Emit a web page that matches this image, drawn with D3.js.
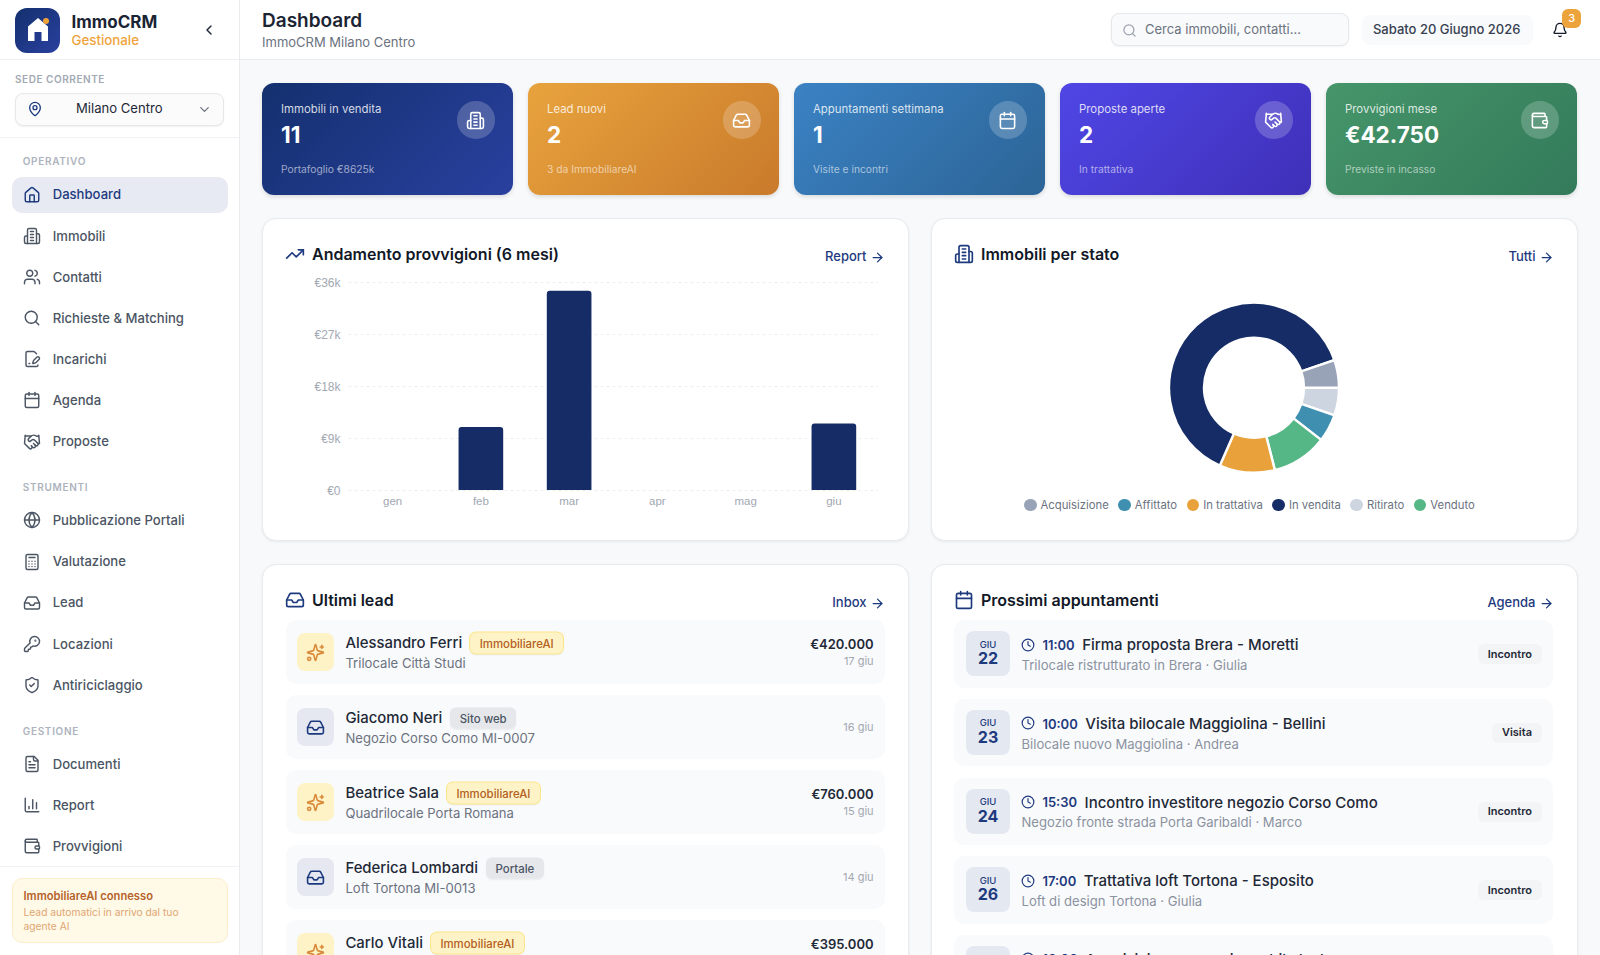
<!DOCTYPE html>
<html lang="it">
<head>
<meta charset="utf-8">
<title>ImmoCRM Dashboard</title>
<script src="https://cdn.jsdelivr.net/npm/d3@7"></script>
<style>
  html, body { margin: 0; padding: 0; background: #f8f9fb; overflow: hidden; }
  #page { position: relative; width: 1600px; height: 955px; overflow: hidden; font-family: Inter, "Noto Sans", sans-serif; color: #1f2937; }
  #page div { position: absolute; box-sizing: border-box; }
  #page .flow, #page .flow div { position: static; }
  .flow { display: flex; align-items: center; white-space: nowrap; }
  .lbl { white-space: nowrap; line-height: 1.2; }
  .ico { position: absolute; fill: none; stroke: currentColor; stroke-linecap: round; stroke-linejoin: round; }
  svg.chart { position: absolute; overflow: visible; font-family: Inter, "Noto Sans", sans-serif; }
</style>
</head>
<body>
<div id="page"></div>
<script>
// data
const months = ["gen", "feb", "mar", "apr", "mag", "giu"];
const commissions = [0, 10900, 34500, 0, 0, 11500];
const yTicks = [0, 9000, 18000, 27000, 36000];

const statusNames = ["Acquisizione", "Affittato", "In trattativa", "In vendita", "Ritirato", "Venduto"];
const statusColors = ["#98a3b8", "#3f8fb0", "#e9a23b", "#152c66", "#cdd5e1", "#55b686"];
// order around the ring, clockwise from 3 o'clock
const ringNames = ["Ritirato", "Affittato", "Venduto", "In trattativa", "In vendita", "Acquisizione"];
const ringValues = [1, 1, 2, 2, 12, 1];

const statLabels = ["Immobili in vendita", "Lead nuovi", "Appuntamenti settimana", "Proposte aperte", "Provvigioni mese"];
const statValues = ["11", "2", "1", "2", "€42.750"];
const statNotes = ["Portafoglio €8625k", "3 da ImmobiliareAI", "Visite e incontri", "In trattativa", "Previste in incasso"];
const statIcons = ["building", "inbox", "calendar", "handshake", "wallet"];

const navSections = ["OPERATIVO", "STRUMENTI", "GESTIONE"];
const navItems = [
  ["Dashboard", "Immobili", "Contatti", "Richieste & Matching", "Incarichi", "Agenda", "Proposte"],
  ["Pubblicazione Portali", "Valutazione", "Lead", "Locazioni", "Antiriciclaggio"],
  ["Documenti", "Report", "Provvigioni"]
];
const navIcons = [
  ["home", "building", "users", "search", "filePen", "calendar", "handshake"],
  ["globe", "calculator", "inbox", "key", "shield"],
  ["fileText", "chart", "wallet"]
];

const leadNames = ["Alessandro Ferri", "Giacomo Neri", "Beatrice Sala", "Federica Lombardi", "Carlo Vitali"];
const leadSources = ["ImmobiliareAI", "Sito web", "ImmobiliareAI", "Portale", "ImmobiliareAI"];
const leadProperties = ["Trilocale Città Studi", "Negozio Corso Como MI-0007", "Quadrilocale Porta Romana", "Loft Tortona MI-0013", ""];
const leadPrices = ["€420.000", "", "€760.000", "", "€395.000"];
const leadDates = ["17 giu", "16 giu", "15 giu", "14 giu", ""];

const apptDays = ["22", "23", "24", "26", ""];
const apptTimes = ["11:00", "10:00", "15:30", "17:00", "10:00"];
const apptTitles = ["Firma proposta Brera - Moretti", "Visita bilocale Maggiolina - Bellini", "Incontro investitore negozio Corso Como", "Trattativa loft Tortona - Esposito", "Acquisizione nuovo immobile Isola"];
const apptNotes = ["Trilocale ristrutturato in Brera · Giulia", "Bilocale nuovo Maggiolina · Andrea", "Negozio fronte strada Porta Garibaldi · Marco", "Loft di design Tortona · Giulia", ""];
const apptTypes = ["Incontro", "Visita", "Incontro", "Incontro", ""];

// icons
const icons = {
  home: '<path d="M15 21v-8a1 1 0 0 0-1-1h-4a1 1 0 0 0-1 1v8"/><path d="M3 10a2 2 0 0 1 .709-1.528l7-5.999a2 2 0 0 1 2.582 0l7 5.999A2 2 0 0 1 21 10v9a2 2 0 0 1-2 2H5a2 2 0 0 1-2-2z"/>',
  building: '<path d="M6 22V4a2 2 0 0 1 2-2h8a2 2 0 0 1 2 2v18Z"/><path d="M6 12H4a2 2 0 0 0-2 2v6a2 2 0 0 0 2 2h2"/><path d="M18 9h2a2 2 0 0 1 2 2v9a2 2 0 0 1-2 2h-2"/><path d="M10 6h4"/><path d="M10 10h4"/><path d="M10 14h4"/><path d="M10 18h4"/>',
  users: '<path d="M16 21v-2a4 4 0 0 0-4-4H6a4 4 0 0 0-4 4v2"/><circle cx="9" cy="7" r="4"/><path d="M22 21v-2a4 4 0 0 0-3-3.87"/><path d="M16 3.13a4 4 0 0 1 0 7.75"/>',
  search: '<circle cx="11" cy="11" r="8"/><path d="m21 21-4.3-4.3"/>',
  filePen: '<path d="m18 5-2.414-2.414A2 2 0 0 0 14.172 2H6a2 2 0 0 0-2 2v16a2 2 0 0 0 2 2h12a2 2 0 0 0 2-2"/><path d="M21.378 12.626a1 1 0 0 0-3.004-3.004l-4.01 4.012a2 2 0 0 0-.506.854l-.837 2.87a.5.5 0 0 0 .62.62l2.87-.837a2 2 0 0 0 .854-.506z"/><path d="M8 18h1"/>',
  calendar: '<path d="M8 2v4"/><path d="M16 2v4"/><rect width="18" height="18" x="3" y="4" rx="2"/><path d="M3 10h18"/>',
  handshake: '<path d="m11 17 2 2a1 1 0 1 0 3-3"/><path d="m14 14 2.5 2.5a1 1 0 1 0 3-3l-3.88-3.88a3 3 0 0 0-4.24 0l-.88.88a1 1 0 1 1-3-3l2.81-2.81a5.79 5.79 0 0 1 7.06-.87l.47.28a2 2 0 0 0 1.42.25L21 4"/><path d="m21 3 1 11h-2"/><path d="M3 3 2 14l6.5 6.5a1 1 0 1 0 3-3"/><path d="M3 4h8"/>',
  globe: '<circle cx="12" cy="12" r="10"/><path d="M12 2a14.5 14.5 0 0 0 0 20 14.5 14.5 0 0 0 0-20"/><path d="M2 12h20"/>',
  calculator: '<rect width="16" height="20" x="4" y="2" rx="2"/><path d="M8 6h8"/><path d="M8 11h.01M12 11h.01M16 11h.01M8 14.5h.01M12 14.5h.01M16 14.5h.01M8 18h.01M12 18h.01M16 18h.01"/>',
  inbox: '<polyline points="22 12 16 12 14 15 10 15 8 12 2 12"/><path d="M5.45 5.11 2 12v6a2 2 0 0 0 2 2h16a2 2 0 0 0 2-2v-6l-3.45-6.89A2 2 0 0 0 16.76 4H7.24a2 2 0 0 0-1.79 1.11z"/>',
  key: '<path d="M2.586 17.414A2 2 0 0 0 2 18.828V21a1 1 0 0 0 1 1h3a1 1 0 0 0 1-1v-1a1 1 0 0 1 1-1h1a1 1 0 0 0 1-1v-1a1 1 0 0 1 1-1h.172a2 2 0 0 0 1.414-.586l.814-.814a6.5 6.5 0 1 0-4-4z"/><circle cx="16.5" cy="7.5" r=".5"/>',
  shield: '<path d="M20 13c0 5-3.5 7.5-7.66 8.95a1 1 0 0 1-.67-.01C7.5 20.5 4 18 4 13V6a1 1 0 0 1 1-1c2 0 4.5-1.2 6.24-2.72a1.17 1.17 0 0 1 1.52 0C14.51 3.81 17 5 19 5a1 1 0 0 1 1 1z"/><path d="m9 12 2 2 4-4"/>',
  fileText: '<path d="M15 2H6a2 2 0 0 0-2 2v16a2 2 0 0 0 2 2h12a2 2 0 0 0 2-2V7Z"/><path d="M14 2v4a2 2 0 0 0 2 2h4"/><path d="M10 9H8"/><path d="M16 13H8"/><path d="M16 17H8"/>',
  chart: '<path d="M3 3v16a2 2 0 0 0 2 2h16"/><path d="M18 17V9"/><path d="M13 17V5"/><path d="M8 17v-3"/>',
  wallet: '<path d="M19 7V4a1 1 0 0 0-1-1H5a2 2 0 0 0 0 4h15a1 1 0 0 1 1 1v4h-3a2 2 0 0 0 0 4h3a1 1 0 0 0 1-1v-2a1 1 0 0 0-1-1"/><path d="M3 5v14a2 2 0 0 0 2 2h15a1 1 0 0 0 1-1v-4"/>',
  pin: '<path d="M20 10c0 4.993-5.539 10.193-7.399 11.799a1 1 0 0 1-1.202 0C9.539 20.193 4 14.993 4 10a8 8 0 0 1 16 0"/><circle cx="12" cy="10" r="3"/>',
  chevronDown: '<path d="m6 9 6 6 6-6"/>',
  chevronLeft: '<path d="m15 18-6-6 6-6"/>',
  bell: '<path d="M10.268 21a2 2 0 0 0 3.464 0"/><path d="M3.262 15.326A1 1 0 0 0 4 17h16a1 1 0 0 0 .74-1.673C19.41 13.956 18 12.499 18 8A6 6 0 0 0 6 8c0 4.499-1.411 5.956-2.738 7.326"/>',
  trending: '<polyline points="22 7 13.5 15.5 8.5 10.5 2 17"/><polyline points="16 7 22 7 22 13"/>',
  arrow: '<path d="M5 12h14"/><path d="m12 5 7 7-7 7"/>',
  sparkles: '<path d="M9.937 15.5A2 2 0 0 0 8.5 14.063l-6.135-1.582a.5.5 0 0 1 0-.962L8.5 9.936A2 2 0 0 0 9.937 8.5l1.582-6.135a.5.5 0 0 1 .963 0L14.063 8.5A2 2 0 0 0 15.5 9.937l6.135 1.581a.5.5 0 0 1 0 .964L15.5 14.063a2 2 0 0 0-1.437 1.437l-1.582 6.135a.5.5 0 0 1-.963 0z"/><path d="M20 3v4"/><path d="M22 5h-4"/><circle cx="4" cy="20" r="2"/>',
  clock: '<circle cx="12" cy="12" r="10"/><polyline points="12 6 12 12 16 14"/>'
};

const navy = "#1e3a7e";
const page = d3.select("#page");

// absolute box
function box(parent, x, y, w, h, styles) {
  const b = parent.append("div")
    .style("left", x + "px").style("top", y + "px")
    .style("width", w + "px").style("height", h + "px");
  Object.entries(styles || {}).forEach(([k, v]) => b.style(k, v));
  return b;
}

// text centred vertically on cy; anchor end puts its right edge on x
function label(parent, text, x, cy, size, weight, color, anchor, spacing) {
  const tx = anchor === "end" ? "-100%" : anchor === "middle" ? "-50%" : "0";
  return parent.append("div").attr("class", "lbl")
    .style("left", x + "px").style("top", cy + "px")
    .style("transform", `translate(${tx}, -50%)`)
    .style("font-size", size + "px").style("font-weight", weight)
    .style("color", color)
    .style("letter-spacing", spacing ? spacing + "px" : null)
    .text(text);
}

function icon(parent, name, cx, cy, size, color, stroke) {
  return parent.append("svg").attr("class", "ico")
    .attr("viewBox", "0 0 24 24")
    .attr("width", size).attr("height", size)
    .style("left", (cx - size / 2) + "px").style("top", (cy - size / 2) + "px")
    .style("color", color)
    .attr("stroke-width", stroke || 2)
    .html(icons[name]);
}

// ---------- sidebar
box(page, 0, 0, 240, 955, { background: "#fff", "border-right": "1px solid #e9ebef" });
box(page, 15, 7.5, 45, 45, { background: "linear-gradient(135deg,#14306e,#2a409f)", "border-radius": "12px" });
const logo = page.append("svg").attr("class", "ico").style("left", "28px").style("top", "17.5px")
  .attr("width", 20).attr("height", 23);
logo.append("path").attr("d", "M10 0 L20 8.5 V23 H13.5 V14 H6.5 V23 H0 V8.5 Z").attr("fill", "#fff").attr("stroke", "none");
box(page, 42.7, 17.7, 6.6, 6.6, { background: "#f0a33a", "border-radius": "50%" });
label(page, "ImmoCRM", 71.5, 22, 17, 700, "#1b2433");
label(page, "Gestionale", 71.5, 40.5, 13.3, 500, "#f0a33a");
icon(page, "chevronLeft", 209, 29.7, 16, "#1f2937", 2.2);
box(page, 0, 59, 239, 1, { background: "#eceef2" });

label(page, "SEDE CORRENTE", 15, 78.7, 10, 600, "#a3a9b4", null, 0.55);
box(page, 15, 92.5, 208.5, 33, { background: "#fbfbfc", border: "1px solid #e5e7eb", "border-radius": "8px", "box-shadow": "0 1px 2px rgba(0,0,0,.06)" });
icon(page, "pin", 35, 109, 16, navy, 2);
label(page, "Milano Centro", 76, 109, 13.1, 400, "#1f2937");
icon(page, "chevronDown", 204, 109, 15, "#6b7280", 2);
box(page, 0, 137, 239, 1, { background: "#f1f2f5" });

const sectionY = [160.7, 487, 730.5];
const itemY = [
  [194.5, 236, 277, 318, 359.3, 400.3, 441.7],
  [520.3, 561.7, 602.7, 644, 685],
  [764, 805.3, 846.3]
];
box(page, 12, 176.5, 215.5, 36.5, { background: "#e7eaf2", "border-radius": "10px" });
navSections.forEach((s, i) => {
  label(page, s, 22.7, sectionY[i], 10, 600, "#adb3bd", null, 0.7);
  navItems[i].forEach((name, j) => {
    const active = name === "Dashboard";
    icon(page, navIcons[i][j], 32, itemY[i][j], 18, active ? navy : "#4b5563", 1.9);
    label(page, name, 52.7, itemY[i][j] + 0.7, 13.1, 500, active ? navy : "#4b5563");
  });
});
box(page, 0, 866, 239, 1, { background: "#f1f2f5" });
box(page, 12, 878.3, 215.5, 65, { background: "#fff9e8", border: "1px solid #fdeecb", "border-radius": "10px" });
label(page, "ImmobiliareAI connesso", 23.5, 896.5, 11.2, 600, "#b4622a");
label(page, "Lead automatici in arrivo dal tuo", 23.5, 911.7, 10.25, 400, "#e0a672");
label(page, "agente AI", 23.5, 926, 10.25, 400, "#e0a672");

// ---------- top bar
box(page, 240, 0, 1360, 60, { background: "#fff", "border-bottom": "1px solid #e9ebef" });
label(page, "Dashboard", 262, 21, 19, 600, "#1b2433");
label(page, "ImmoCRM Milano Centro", 262, 43, 13, 400, "#6b7280");
box(page, 1111, 13.3, 238, 33, { background: "#f9fafb", border: "1px solid #e5e7eb", "border-radius": "8px", "box-shadow": "0 1px 2px rgba(0,0,0,.05)" });
icon(page, "search", 1129, 30, 15, "#9ca3af", 2);
label(page, "Cerca immobili, contatti...", 1145, 30, 13, 400, "#6b7280");
box(page, 1361.5, 14.7, 171, 30, { background: "#f9fafb", "border-radius": "8px" });
label(page, "Sabato 20 Giugno 2026", 1446.7, 30, 13, 500, "#374151", "middle");
icon(page, "bell", 1560.3, 29.7, 16, "#111827", 2);
box(page, 1562.4, 9, 18.6, 18.7, { background: "#eda33b", "border-radius": "6px" });
label(page, "3", 1571.7, 18.5, 11, 500, "#fff", "middle");

// ---------- stat cards
const statGradients = [
  ["#14306e", "#2a409f"], ["#e8a33d", "#c97a2b"], ["#3b82c4", "#2c6496"],
  ["#4f46e5", "#3f30b8"], ["#46966a", "#337a5a"]
];
statLabels.forEach((name, i) => {
  const x = 262 + i * 266;
  box(page, x, 82.7, 251, 112.5, {
    background: `linear-gradient(135deg,${statGradients[i][0]},${statGradients[i][1]})`,
    "border-radius": "12px", "box-shadow": "0 2px 4px rgba(0,0,0,.12)"
  });
  label(page, name, x + 19, 109.7, 11.4, 400, "rgba(255,255,255,.82)");
  label(page, statValues[i], x + 19, 134, 22.5, 700, "#fff");
  label(page, statNotes[i], x + 19, 168.5, 10.25, 400, "rgba(255,255,255,.58)");
  box(page, x + 195, 101.3, 37.5, 37.5, { background: "rgba(255,255,255,.2)", "border-radius": "50%" });
  icon(page, statIcons[i], x + 213.7, 120, 19, "#fff", 2);
});

// ---------- panels
function panel(x, y, h, iconName, title, link, linkRight) {
  box(page, x, y, 646.5, h, { background: "#fff", border: "1px solid #e9ebef", "border-radius": "14px", "box-shadow": "0 1px 3px rgba(0,0,0,.07)" });
  icon(page, iconName, x + 33, y + 36, 20, navy, 2);
  label(page, title, x + 50, y + 36.5, 16, 600, "#111827");
  icon(page, "arrow", linkRight, y + 39, 15, navy, 2);
  label(page, link, linkRight - 11, y + 39, 13, 500, navy, "end");
}
panel(262, 218, 323, "trending", "Andamento provvigioni (6 mesi)", "Report", 877.5);
panel(931, 218, 323, "building", "Immobili per stato", "Tutti", 1546.5);
panel(262, 564, 420, "inbox", "Ultimi lead", "Inbox", 877.5);
panel(931, 564, 420, "calendar", "Prossimi appuntamenti", "Agenda", 1546.5);

// ---------- bar chart
const svgWidth = 646;
const svgHeight = 250;
const margin = { top: 12, right: 30, bottom: 30, left: 86.5 };
const width = svgWidth - margin.left - margin.right;
const height = svgHeight - margin.top - margin.bottom;

const barSvg = page.append("svg").attr("class", "chart")
  .style("left", "262px").style("top", "270px")
  .attr("width", svgWidth).attr("height", svgHeight);
const chartGroup = barSvg.append("g").attr("transform", `translate(${margin.left}, ${margin.top})`);

const xScale = d3.scaleBand().domain(months).range([0, width]).paddingInner(0.494).paddingOuter(0.247);
const yScale = d3.scaleLinear().domain([0, 36000]).range([height, 0]);

const yAxis = chartGroup.append("g")
  .call(d3.axisLeft(yScale).tickValues(yTicks).tickSize(-width).tickPadding(8)
    .tickFormat(d => d === 0 ? "€0" : `€${d / 1000}k`));
yAxis.select(".domain").remove();
yAxis.selectAll("line").attr("stroke", "#eceef1").attr("stroke-dasharray", "3 3");
yAxis.selectAll("text").attr("fill", "#a2a8b2").attr("font-size", 12).attr("y", 0.7);

const xAxis = chartGroup.append("g").attr("transform", `translate(0, ${height})`)
  .call(d3.axisBottom(xScale).tickSize(0).tickPadding(7));
xAxis.select(".domain").remove();
xAxis.selectAll("text").attr("fill", "#a2a8b2").attr("font-size", 11.5);

chartGroup.selectAll("path.bar")
  .data(commissions.map((v, i) => ({ month: months[i], value: v })).filter(d => d.value > 0))
  .enter().append("path").attr("class", "bar")
  .attr("fill", "#152c66")
  .attr("d", d => {
    const x = xScale(d.month), w = xScale.bandwidth(), y = yScale(d.value), r = 3;
    return `M${x},${height}V${y + r}Q${x},${y} ${x + r},${y}H${x + w - r}Q${x + w},${y} ${x + w},${y + r}V${height}Z`;
  });

// ---------- donut
const pieSvg = page.append("svg").attr("class", "chart")
  .style("left", "931px").style("top", "270px")
  .attr("width", 646).attr("height", 250);
const ring = pieSvg.append("g").attr("transform", "translate(323, 117.7)");
const statusColor = d3.scaleOrdinal().domain(statusNames).range(statusColors);
const pie = d3.pie().sort(null).startAngle(Math.PI / 2).endAngle(Math.PI * 2.5);
const arc = d3.arc().innerRadius(50).outerRadius(85);
ring.selectAll("path")
  .data(pie(ringValues))
  .enter().append("path")
  .attr("d", arc)
  .attr("fill", (d, i) => statusColor(ringNames[i]))
  .attr("stroke", "#fff").attr("stroke-width", 2.4);

const legend = page.append("div").attr("class", "flow")
  .style("position", "absolute").style("left", "1024px").style("top", "505px")
  .style("transform", "translateY(-50%)").style("gap", "9.5px");
statusNames.forEach((name, i) => {
  const item = legend.append("div").attr("class", "flow").style("gap", "4px");
  item.append("div").style("width", "12.5px").style("height", "12.5px")
    .style("border-radius", "50%").style("background", statusColors[i]);
  item.append("div").style("font-size", "11.3px").style("color", "#6b7280").text(name);
});

// ---------- lead rows
const leadY = [620, 695, 770, 845, 920];
leadNames.forEach((name, i) => {
  const y = leadY[i];
  const ai = leadSources[i] === "ImmobiliareAI";
  box(page, 286, y, 598.5, 64, { background: "#f9fafc", "border-radius": "10px" });
  box(page, 297, y + 13, 37, 37.5, { background: ai ? "#fef3c7" : "#e5e8f1", "border-radius": "8px" });
  icon(page, ai ? "sparkles" : "inbox", 315.5, y + 32, 19, ai ? "#d98a3a" : navy, 2);
  const top = page.append("div").attr("class", "flow").style("position", "absolute")
    .style("left", "345.4px").style("top", (y + 23) + "px").style("transform", "translateY(-50%)").style("gap", "8px");
  top.append("div").style("font-size", "14.9px").style("font-weight", 500).style("color", "#1f2937").style("margin-top", "-1px").text(name);
  top.append("div").style("font-size", "11.4px").style("font-weight", 500)
    .style("padding", "3.5px 9.5px").style("border-radius", "6px")
    .style("background", ai ? "#fef3c7" : "#e5e7eb")
    .style("color", ai ? "#b45f1e" : "#4b5563")
    .style("box-shadow", ai ? "0 0 0 1px #fde68a, 0 1px 2px rgba(0,0,0,.08)" : "0 1px 2px rgba(0,0,0,.06)")
    .text(leadSources[i]);
  if (leadProperties[i]) label(page, leadProperties[i], 345.4, y + 43.7, 13.1, 400, "#6b7280");
  if (leadPrices[i]) label(page, leadPrices[i], 873.6, y + 24.7, 13, 600, "#1f2937", "end");
  if (leadDates[i]) label(page, leadDates[i], 873.6, leadPrices[i] ? y + 42 : y + 32.8, 11, 400, "#a2a8b2", "end");
});

// ---------- appointment rows
const apptY = [620.3, 699, 777.7, 856.3, 934.7];
apptTitles.forEach((title, i) => {
  const y = apptY[i];
  box(page, 954.4, y, 598.6, 67.4, { background: "#f9fafc", "border-radius": "10px" });
  box(page, 965.8, y + 11, 44.2, 45, { background: "#e4e8f1", "border-radius": "8px" });
  if (apptDays[i]) {
    label(page, "GIU", 988, y + 24.4, 9.5, 500, navy, "middle");
    label(page, apptDays[i], 988, y + 39, 16, 700, navy, "middle");
  }
  icon(page, "clock", 1028, y + 24.4, 14, navy, 2);
  const line = page.append("div").attr("class", "flow").style("position", "absolute")
    .style("left", "1042.4px").style("top", (y + 24) + "px").style("transform", "translateY(-50%)").style("gap", "7.5px");
  line.append("div").style("font-size", "13px").style("font-weight", 600).style("color", navy).text(apptTimes[i]);
  line.append("div").style("font-size", "15px").style("font-weight", 500).style("color", "#1f2937").text(title);
  if (apptNotes[i]) label(page, apptNotes[i], 1021.5, y + 45.5, 13.1, 400, "#8b92a0");
  if (apptTypes[i]) {
    page.append("div").attr("class", "lbl")
      .style("right", (1600 - 1542) + "px").style("top", (y + 33.8) + "px")
      .style("transform", "translateY(-50%)")
      .style("padding", "3.5px 10px").style("border-radius", "6px").style("background", "#f3f4f6")
      .style("font-size", "11px").style("font-weight", 600).style("color", "#1f2937")
      .text(apptTypes[i]);
  }
});
</script>
</body>
</html>
